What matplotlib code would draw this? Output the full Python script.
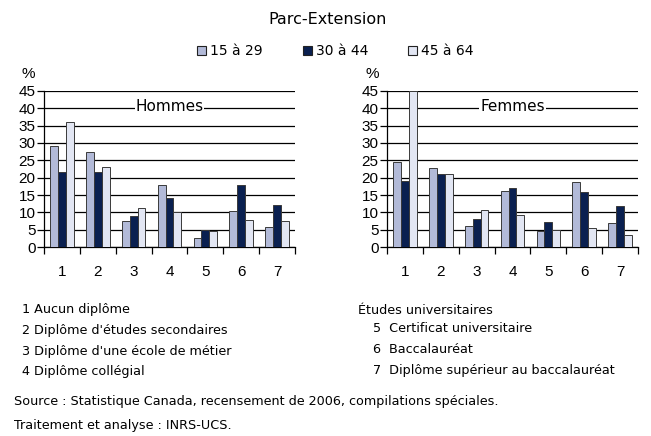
import matplotlib.pyplot as plt
import numpy as np

categories = ["1", "2", "3", "4", "5", "6", "7"]
groups = ["15 à 29", "30 à 44", "45 à 64"]
colors = ["#b2bad8", "#0a2050", "#e2e6f3"]

hommes = [
    [29.0, 27.5, 7.5, 17.8, 2.5, 10.3, 5.8],
    [21.5, 21.5, 8.8, 14.0, 5.0, 17.8, 12.2],
    [36.0, 23.0, 11.3, 10.0, 4.5, 7.7, 7.5],
]
femmes = [
    [24.5, 22.8, 6.2, 16.2, 4.6, 18.8, 7.0],
    [19.0, 21.0, 8.1, 17.1, 7.3, 16.0, 11.8],
    [45.0, 21.0, 10.7, 9.2, 5.0, 5.5, 3.5],
]

notes_left = ["1 Aucun diplôme", "2 Diplôme d'études secondaires",
              "3 Diplôme d'une école de métier", "4 Diplôme collégial"]
notes_right = ["5  Certificat universitaire", "6  Baccalauréat",
               "7  Diplôme supérieur au baccalauréat"]

W, H = 651, 436
fig = plt.figure(figsize=(W / 100, H / 100), dpi=100)
txt_font = "DejaVu Sans"
num_font = "Liberation Sans"


def panel(left_px, data, name):
    ax = fig.add_axes([left_px / W, (H - 247) / H, 251 / W, 156 / H])
    x = np.arange(len(categories))
    bw = 0.22
    for i, vals in enumerate(data):
        ax.bar(x + (i - 1) * bw, vals, bw, color=colors[i],
               edgecolor="#3a3a3a", linewidth=0.7, zorder=3)
    ax.set_xlim(-0.5, len(categories) - 0.5)
    ax.set_ylim(0, 45)
    ax.set_yticks(range(0, 50, 5))
    ax.set_yticklabels([str(v) for v in range(0, 50, 5)], fontsize=11,
                       family=num_font)
    ax.yaxis.grid(True, color="black", linewidth=0.9, zorder=0)
    ax.set_axisbelow(True)
    ax.set_xticks(np.arange(-0.5, len(categories)), minor=False)
    ax.set_xticklabels([])
    ax.set_xticks(x, minor=True)
    ax.set_xticklabels(categories, minor=True, fontsize=11, family=num_font)
    ax.tick_params(axis="x", which="minor", length=0, pad=13)
    ax.tick_params(axis="x", which="major", length=5, width=0.9,
                   direction="out")
    ax.tick_params(axis="y", length=5, width=0.9, pad=1)
    for s in ["top", "right"]:
        ax.spines[s].set_visible(False)
    ax.spines["left"].set_linewidth(0.9)
    ax.spines["bottom"].set_linewidth(0.9)
    ax.text(0.5, 0.9, name, transform=ax.transAxes, ha="center",
            va="center", fontsize=11, family=txt_font,
            bbox=dict(facecolor="white", edgecolor="none", pad=0.5))
    fig.text((left_px - 22) / W, 1 - 74 / H, "%", fontsize=11,
             family=num_font, va="center")
    return ax


panel(44, hommes, "Hommes")
panel(387, femmes, "Femmes")

fig.text(328 / W, 1 - 20 / H, "Parc-Extension", ha="center", va="center",
         fontsize=11.5, family=txt_font)

leg_x = [197, 303, 408]
for lx, g, c in zip(leg_x, groups, colors):
    fig.patches.append(plt.Rectangle((lx / W, 1 - 55 / H), 9 / W, 9 / H,
                                     transform=fig.transFigure,
                                     facecolor=c, edgecolor="#222222",
                                     linewidth=0.8))
    fig.text((lx + 13) / W, 1 - 51 / H, g, va="center", fontsize=10,
             family=txt_font)

fs = 9.2
for i, t in enumerate(notes_left):
    fig.text(22 / W, 1 - (310 + i * 20.5) / H, t, va="center",
             fontsize=fs, family=txt_font)
fig.text(358 / W, 1 - 310 / H, "Études universitaires", va="center",
         fontsize=fs, family=txt_font)
for i, t in enumerate(notes_right):
    fig.text(373 / W, 1 - (329 + i * 20.5) / H, t, va="center",
             fontsize=fs, family=txt_font)

fig.text(14 / W, 1 - 401 / H,
         "Source : Statistique Canada, recensement de 2006, compilations spéciales.",
         va="center", fontsize=fs, family=txt_font)
fig.text(14 / W, 1 - 425 / H, "Traitement et analyse : INRS-UCS.",
         va="center", fontsize=fs, family=txt_font)

fig.savefig("out.png", dpi=100)
